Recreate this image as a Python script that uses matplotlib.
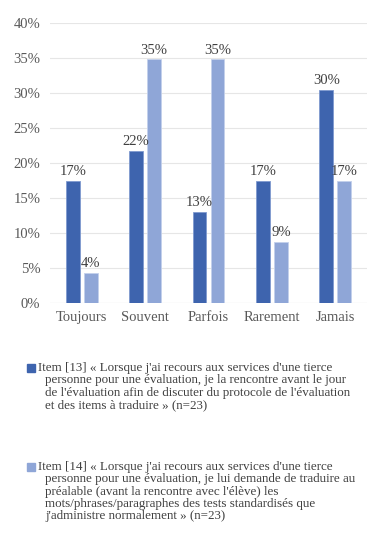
import numpy as np
import matplotlib
matplotlib.use("Agg")
from matplotlib import pyplot as plt

categories = ["Toujours", "Souvent", "Parfois", "Rarement", "Jamais"]
item13 = [17.4, 21.7, 13.0, 17.4, 30.4]
item14 = [4.3, 34.8, 34.8, 8.7, 17.4]
yticks = [0, 5, 10, 15, 20, 25, 30, 35, 40]

legend13 = ["Item [13] « Lorsque j'ai recours aux services d'une tierce",
            "personne pour une évaluation, je la rencontre avant le jour",
            "de l'évaluation afin de discuter du protocole de l'évaluation",
            "et des items à traduire » (n=23)"]
legend14 = ["Item [14] « Lorsque j'ai recours aux services d'une tierce",
            "personne pour une évaluation, je lui demande de traduire au",
            "préalable (avant la rencontre avec l'élève) les",
            "mots/phrases/paragraphes des tests standardisés que",
            "j'administre normalement » (n=23)"]

dark = "#3E64AE"
light = "#8FA6D7"
txt = "#404040"

plt.rcParams['font.family'] = ['Liberation Serif', 'DejaVu Serif']

fig = plt.figure(figsize=(3.77, 5.44), dpi=100)
ax = fig.add_axes([0.1326, 0.443, 0.8409, 0.5147])

x = np.arange(len(categories))
w = 0.22
off = 0.142
b1 = ax.bar(x - off, item13, w, color=dark, edgecolor="#7F9AD0", linewidth=0.6, zorder=3)
b2 = ax.bar(x + off, item14, w, color=light, edgecolor="#C3D0EC", linewidth=0.6, zorder=3)

for bars in (b1, b2):
    for r in bars:
        ax.text(r.get_x() + r.get_width() / 2, r.get_height() + 0.4,
                "%d%%" % round(r.get_height()), ha="center", va="bottom",
                fontsize=10.5, color=txt, zorder=4)

ax.set_xlim(-0.5, 4.5)
ax.set_ylim(0, 40)
ax.set_yticks(yticks)
ax.set_yticklabels(["%d%%" % v for v in yticks])
ax.set_xticks(x)
ax.set_xticklabels(categories)
ax.tick_params(length=0, labelsize=10.5, labelcolor="#595959", pad=7)
ax.tick_params(axis="x", pad=6)
ax.grid(axis="y", color="#E6E6E6", linewidth=0.8, zorder=0)
for s in ax.spines.values():
    s.set_visible(False)
ax.axhline(0, color="#D9D9D9", linewidth=0.8, zorder=2)

def legend_block(lines, y0, color):
    fig.patches.append(plt.Rectangle((27 / 377, 1 - (y0 + 4) / 544), 8 / 377, 8 / 544,
                                     transform=fig.transFigure, color=color))
    for i, line in enumerate(lines):
        xx = 38 if i == 0 else 45
        fig.text(xx / 377, 1 - (y0 + i * 12.3) / 544, line, ha="left", va="center",
                 fontsize=9.4, color=txt)

legend_block(legend13, 368, dark)
legend_block(legend14, 467, light)

fig.savefig("out.png", dpi=100)
